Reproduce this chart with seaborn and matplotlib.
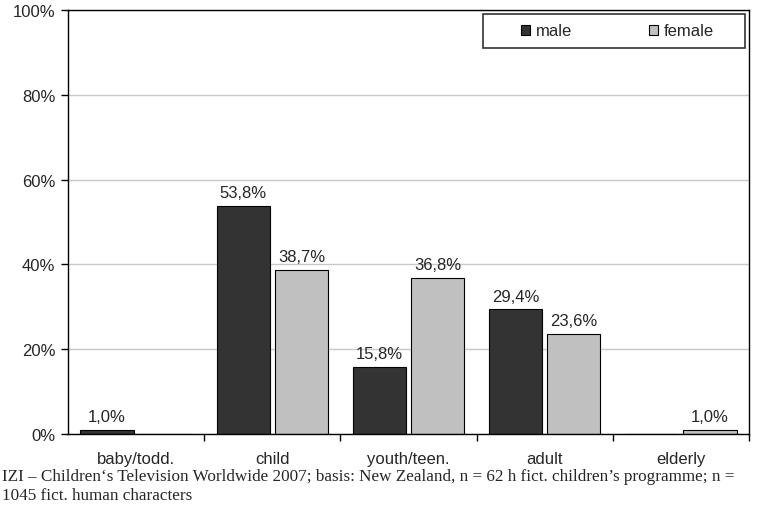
import matplotlib
matplotlib.use("Agg")
import matplotlib.pyplot as plt
import seaborn as sns
import pandas as pd
from matplotlib.patches import Patch, Rectangle
from matplotlib.ticker import FixedLocator

categories = ["baby/todd.", "child", "youth/teen.", "adult", "elderly"]
male = [1.0, 53.8, 15.8, 29.4, 0.0]
female = [0.0, 38.7, 36.8, 23.6, 1.0]
series = ["male", "female"]
colors = {"male": "#333333", "female": "#c0c0c0"}
caption = ("IZI \u2013 Children\u2018s Television Worldwide 2007; basis: New Zealand, n = 62 h fict. children\u2019s programme; n =\n"
           "1045 fict. human characters")

df = pd.DataFrame({
    "category": categories * 2,
    "gender": ["male"] * len(categories) + ["female"] * len(categories),
    "value": male + female,
})

sns.set_style("white")
plt.rcParams["font.family"] = ["Liberation Sans", "DejaVu Sans"]

fig = plt.figure(figsize=(7.58, 5.06), dpi=100)
# axes box in pixels: x 68..749, y 11..435
ax = fig.add_axes([68 / 758, 1 - 435 / 506, 681 / 758, 424 / 506])

sns.barplot(data=df, x="category", y="value", hue="gender", hue_order=series,
            palette=colors, width=0.854, gap=0.087, edgecolor="black",
            linewidth=0.8, ax=ax, legend=False)

for cont in ax.containers:
    labels = [f"{v:.1f}%".replace(".", ",") if v > 0 else "" for v in cont.datavalues]
    ax.bar_label(cont, labels=labels, padding=4, fontsize=12)

ax.set_xlim(-0.5, 4.5)
ax.set_ylim(0, 100)
ax.set_yticks([0, 20, 40, 60, 80, 100])
ax.set_yticklabels([f"{t}%" for t in [0, 20, 40, 60, 80, 100]], fontsize=12)
ax.yaxis.grid(True, color="#c8c8c8", linewidth=1)
ax.set_axisbelow(True)
ax.tick_params(axis="y", left=True, length=5, width=1, pad=4, color="black")

ax.set_xticks(range(len(categories)))
ax.set_xticklabels(categories, fontsize=12)
ax.tick_params(axis="x", which="major", bottom=False, length=0, pad=12.5)
ax.xaxis.set_minor_locator(FixedLocator([0.5, 1.5, 2.5, 3.5, 4.5]))
ax.tick_params(axis="x", which="minor", bottom=True, length=5, width=1, color="black")

ax.set_xlabel("")
ax.set_ylabel("")
for side in ["left", "bottom", "top", "right"]:
    ax.spines[side].set_visible(True)
    ax.spines[side].set_color("black")
    ax.spines[side].set_linewidth(1)

# legend frame: x 483..745, y 15..49 px
x0, x1 = (483 - 68) / 681, (745 - 68) / 681
y0, y1 = (435 - 49) / 424, (435 - 15) / 424
ax.add_patch(Rectangle((x0, y0), x1 - x0, y1 - y0, transform=ax.transAxes,
                       facecolor="white", edgecolor="#333333", linewidth=1.2,
                       zorder=5, clip_on=False))

handles = [Patch(facecolor=colors[s], edgecolor="black", linewidth=0.8) for s in series]
leg = ax.legend(handles, series, loc="center", bbox_to_anchor=((x0 + x1) / 2 + 0.005, (y0 + y1) / 2),
                ncol=2, frameon=False, fontsize=12, handlelength=0.55, handleheight=0.55,
                handletextpad=0.35, columnspacing=4.6, borderpad=0, borderaxespad=0)
leg.set_zorder(6)

fig.text(2 / 758, 1 - 469 / 506, caption, family=["Liberation Serif", "DejaVu Serif"],
         fontsize=12.3, va="top", ha="left", linespacing=1.22)

fig.savefig("out.png", dpi=100)
